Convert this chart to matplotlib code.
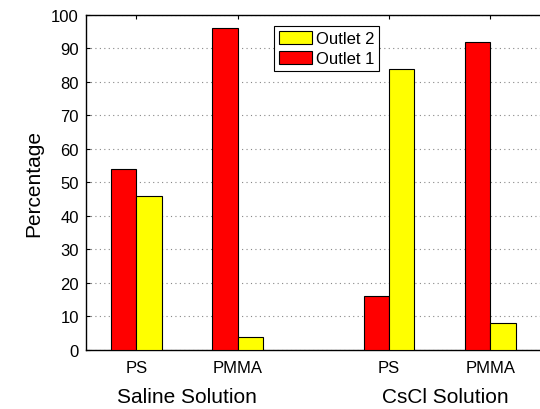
import matplotlib.pyplot as plt
import numpy as np

plt.rcParams['font.family'] = ['Liberation Sans', 'DejaVu Sans']

materials = ["PS", "PMMA", "PS", "PMMA"]
groups = ["Saline Solution", "CsCl Solution"]
outlet1 = [54, 96, 16, 92]
outlet2 = [46, 4, 84, 8]
positions = [1, 2, 3.5, 4.5]

fig = plt.figure(figsize=(5.4, 4.1), dpi=100)
ax = fig.add_axes([0.159, 0.144, 0.85, 0.817])

x = np.array(positions)
w = 0.25
b1 = ax.bar(x - w / 2, outlet1, w, color="#ff0000", edgecolor="black", linewidth=0.8,
            label="Outlet 1", zorder=3)
b2 = ax.bar(x + w / 2, outlet2, w, color="#ffff00", edgecolor="black", linewidth=0.8,
            label="Outlet 2", zorder=3)

ax.set_xlim(0.5, 5.04)
ax.set_ylim(0, 100)
ax.set_yticks(range(0, 101, 10))
ax.set_xticks(x)
ax.set_xticklabels(materials, fontsize=12)
ax.tick_params(axis="y", labelsize=12, pad=5)
ax.tick_params(axis="x", pad=7)
ax.tick_params(direction="in", top=True, right=True, length=3, width=0.8)
ax.yaxis.grid(True, linestyle=(0, (1, 3)), color="#888888", linewidth=0.8, zorder=0)
ax.set_axisbelow(True)
for s in ax.spines.values():
    s.set_linewidth(1.0)
ax.set_ylabel("Percentage", fontsize=15, labelpad=6)

for xc, g in zip([(positions[0] + positions[1]) / 2, (positions[2] + positions[3]) / 2 + 0.06], groups):
    ax.text(xc, -14, g, ha="center", va="center", fontsize=15,
            transform=ax.transData, clip_on=False)

leg = ax.legend([b2, b1], ["Outlet 2", "Outlet 1"], loc="upper left",
                bbox_to_anchor=(0.41, 0.967), fontsize=12, frameon=True,
                fancybox=False, edgecolor="black", framealpha=1,
                handlelength=2.0, handleheight=0.8, borderpad=0.3,
                labelspacing=0.3, handletextpad=0.2, borderaxespad=0)
leg.get_frame().set_linewidth(0.8)

fig.savefig("out.png", dpi=100)
